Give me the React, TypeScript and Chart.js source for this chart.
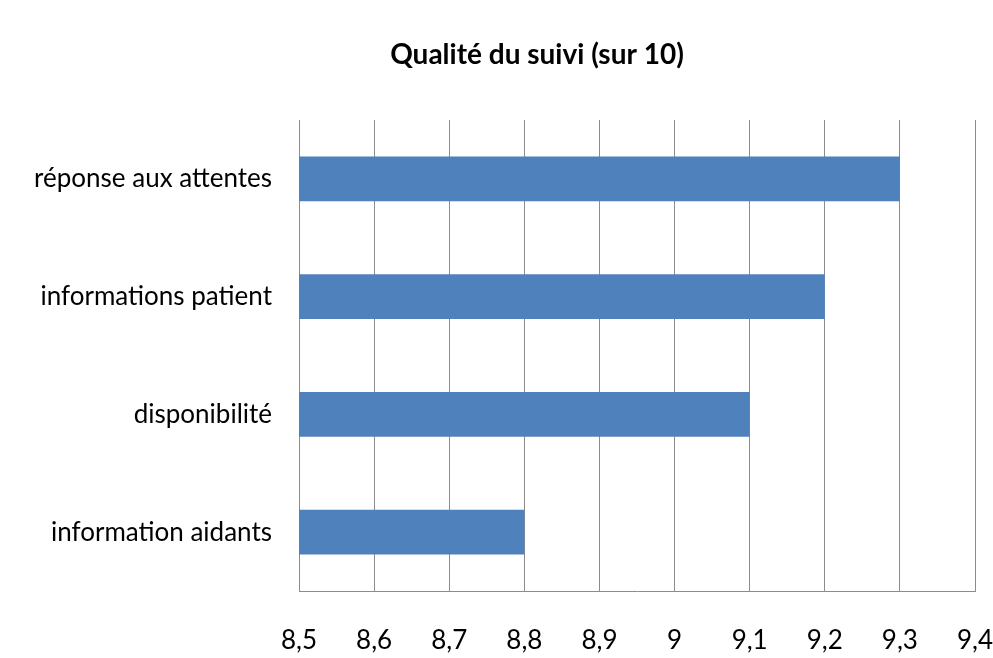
import React, { useEffect, useRef } from "react";
import { Chart, registerables } from "chart.js";

Chart.register(...registerables);

const title = "Qualité du suivi (sur 10)";
const categories = ["réponse aux attentes", "informations patient", "disponibilité", "information aidants"];
const values = [9.3, 9.2, 9.1, 8.8];
const xMin = 8.5;
const xMax = 9.4;
const xStep = 0.1;

const FONT = "Lato, 'Open Sans', sans-serif";

const titlePlugin = {
  id: "customTitle",
  afterDraw(chart: any) {
    const ctx = chart.ctx;
    ctx.save();
    ctx.font = `bold 28px ${FONT}`;
    ctx.fillStyle = "#000";
    ctx.textAlign = "center";
    ctx.textBaseline = "middle";
    ctx.fillText(title, 537, 55);
    ctx.restore();
  },
};

export default function App() {
  const ref = useRef<HTMLCanvasElement>(null);
  useEffect(() => {
    const chart = new Chart(ref.current!, {
      type: "bar",
      data: {
        labels: categories,
        datasets: [
          {
            data: values,
            backgroundColor: "#4F81BD",
            borderWidth: 0,
            barPercentage: 0.76,
            categoryPercentage: 0.5,
          },
        ],
      },
      options: {
        indexAxis: "y",
        animation: false,
        responsive: false,
        layout: { padding: { top: 120, right: 18, left: 0, bottom: 0 } },
        plugins: { legend: { display: false }, tooltip: { enabled: false } },
        scales: {
          x: {
            min: xMin,
            max: xMax,
            ticks: {
              stepSize: xStep,
              padding: 34,
              color: "#000",
              font: { family: FONT, size: 26 },
              maxRotation: 0,
              callback: (v: any) => {
                const n = Math.round(Number(v) * 10) / 10;
                return Number.isInteger(n) ? String(n) : n.toFixed(1).replace(".", ",");
              },
            },
            grid: { color: "#8c8c8c", lineWidth: 1, drawTicks: false },
            border: { color: "#8c8c8c", width: 1 },
            afterFit: (s: any) => {
              s.height = 67;
              s.paddingLeft = 0;
              s.paddingRight = 0;
            },
          },
          y: {
            ticks: { color: "#000", padding: 27, font: { family: FONT, size: 26 } },
            grid: { display: false, drawTicks: false },
            border: { color: "#8c8c8c", width: 1 },
            afterFit: (s: any) => {
              s.width = 299;
            },
          },
        },
      },
      plugins: [titlePlugin],
    });
    return () => chart.destroy();
  }, []);
  return (
    <div style={{ position: "fixed", left: 0, top: 0, width: 993, height: 658, background: "#fff" }}>
      <canvas ref={ref} width={993} height={658} />
    </div>
  );
}
